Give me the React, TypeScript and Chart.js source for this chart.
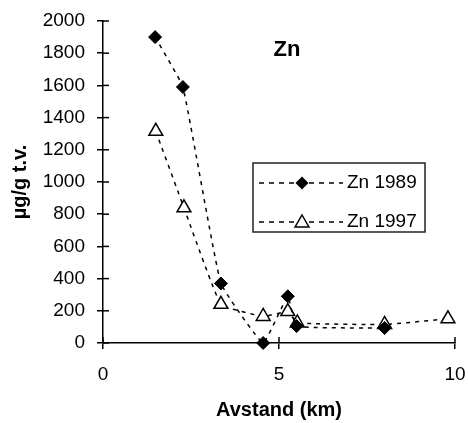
import React, { useEffect, useRef } from "react";
import { Chart, registerables } from "chart.js";

Chart.register(...registerables);

const distance1989 = [1.48, 2.27, 3.35, 4.55, 5.25, 5.5, 8.0];
const zn1989 = [1900, 1590, 370, 0, 290, 105, 93];
const distance1997 = [1.5, 2.3, 3.35, 4.55, 5.25, 5.52, 8.0, 9.8];
const zn1997 = [1315, 840, 240, 165, 195, 125, 115, 150];
const seriesNames = ["Zn 1989", "Zn 1997"];
const chartTitle = "Zn";
const xTitle = "Avstand (km)";
const yTitle = "µg/g t.v.";

const FONT = "'Liberation Sans', Arial, sans-serif";

export default function App() {
  const ref = useRef<HTMLCanvasElement | null>(null);

  useEffect(() => {
    if (!ref.current) return;

    const decor = {
      id: "decor",
      afterDraw(chart: any) {
        const { ctx, chartArea, scales } = chart;
        const xs = scales.x;
        const ys = scales.y;
        ctx.save();
        ctx.strokeStyle = "#000";
        ctx.lineWidth = 1.5;
        // inner tick marks
        ys.ticks.forEach((t: any) => {
          const py = ys.getPixelForValue(t.value);
          ctx.beginPath();
          ctx.moveTo(chartArea.left, py);
          ctx.lineTo(chartArea.left + 6, py);
          ctx.stroke();
        });
        xs.ticks.forEach((t: any) => {
          const px = xs.getPixelForValue(t.value);
          ctx.beginPath();
          ctx.moveTo(px, chartArea.bottom);
          ctx.lineTo(px, chartArea.bottom - 6);
          ctx.stroke();
        });
        // title
        ctx.fillStyle = "#000";
        ctx.font = `bold 22px ${FONT}`;
        ctx.textAlign = "center";
        ctx.textBaseline = "middle";
        ctx.fillText(chartTitle, 287, 50);
        // legend
        const bx = 253, by = 163, bw = 172, bh = 69;
        ctx.lineWidth = 1.5;
        ctx.strokeStyle = "#222";
        ctx.strokeRect(bx, by, bw, bh);
        const rows = [183, 222];
        rows.forEach((ry, i) => {
          ctx.save();
          ctx.strokeStyle = "#000";
          ctx.lineWidth = 1.5;
          ctx.setLineDash([5, 5]);
          ctx.beginPath();
          ctx.moveTo(259, ry);
          ctx.lineTo(343, ry);
          ctx.stroke();
          ctx.restore();
          const mx = 302;
          ctx.beginPath();
          if (i === 0) {
            const r = 6.5;
            ctx.moveTo(mx - r, ry);
            ctx.lineTo(mx, ry - r);
            ctx.lineTo(mx + r, ry);
            ctx.lineTo(mx, ry + r);
            ctx.closePath();
            ctx.fillStyle = "#000";
            ctx.fill();
          } else {
            const r = 8;
            const cy = ry + 1;
            ctx.moveTo(mx, cy - r);
            ctx.lineTo(mx + r * 0.866, cy + r * 0.5);
            ctx.lineTo(mx - r * 0.866, cy + r * 0.5);
            ctx.closePath();
            ctx.fillStyle = "#fff";
            ctx.fill();
            ctx.strokeStyle = "#000";
            ctx.lineWidth = 1.5;
            ctx.stroke();
          }
          ctx.fillStyle = "#000";
          ctx.font = `19px ${FONT}`;
          ctx.textAlign = "left";
          ctx.textBaseline = "middle";
          ctx.fillText(seriesNames[i], 347, ry);
        });
        ctx.restore();
      },
    };

    const chart = new Chart(ref.current, {
      type: "line",
      data: {
        datasets: [
          {
            label: seriesNames[0],
            data: distance1989.map((x, i) => ({ x, y: zn1989[i] })),
            borderColor: "#000",
            borderWidth: 1.5,
            borderDash: [4, 5],
            tension: 0.1,
            pointStyle: "rectRot",
            pointRadius: 6.5,
            pointBackgroundColor: "#000",
            pointBorderColor: "#000",
            pointBorderWidth: 1,
            fill: false,
            clip: false as any,
          },
          {
            label: seriesNames[1],
            data: distance1997.map((x, i) => ({ x, y: zn1997[i] })),
            borderColor: "#000",
            borderWidth: 1.5,
            borderDash: [4, 5],
            tension: 0.1,
            pointStyle: "triangle",
            pointRadius: 8,
            pointBackgroundColor: "#fff",
            pointBorderColor: "#000",
            pointBorderWidth: 1.5,
            fill: false,
            clip: false as any,
          },
        ],
      },
      options: {
        animation: false,
        responsive: false,
        events: [],
        layout: { padding: { top: 21, right: 13, left: 0, bottom: 0 } },
        plugins: {
          legend: { display: false },
          tooltip: { enabled: false },
        },
        scales: {
          x: {
            type: "linear",
            min: 0,
            max: 10,
            ticks: {
              stepSize: 5,
              color: "#000",
              font: { family: FONT, size: 19 },
              padding: 14,
              maxRotation: 0,
              callback: (v: any) => String(v),
            },
            grid: {
              drawOnChartArea: false,
              tickLength: 6,
              color: "#000",
              lineWidth: 1.5,
            },
            border: { color: "#000", width: 1.5 },
            title: {
              display: true,
              text: xTitle,
              color: "#000",
              font: { family: FONT, size: 20, weight: "bold" },
              padding: { top: 0, bottom: 1 },
            },
            afterFit(scale: any) {
              scale.height = 80;
              scale.paddingRight = 0;
              scale.paddingLeft = 0;
            },
          },
          y: {
            type: "linear",
            min: 0,
            max: 2000,
            ticks: {
              stepSize: 200,
              color: "#000",
              font: { family: FONT, size: 19 },
              padding: 12,
              callback: (v: any) => String(v),
            },
            grid: {
              drawOnChartArea: false,
              tickLength: 6,
              color: "#000",
              lineWidth: 1.5,
            },
            border: { color: "#000", width: 1.5 },
            title: {
              display: true,
              text: yTitle,
              color: "#000",
              font: { family: FONT, size: 20, weight: "bold" },
              padding: { top: 8, bottom: 0 },
            },
            afterFit(scale: any) {
              scale.width = 103;
              scale.paddingTop = 0;
              scale.paddingBottom = 0;
            },
          },
        },
      },
      plugins: [decor],
    });

    return () => chart.destroy();
  }, []);

  return (
    <div style={{ position: "fixed", left: 0, top: 0, width: 468, height: 423, background: "#fff" }}>
      <canvas ref={ref} width={468} height={423} style={{ display: "block" }} />
    </div>
  );
}
